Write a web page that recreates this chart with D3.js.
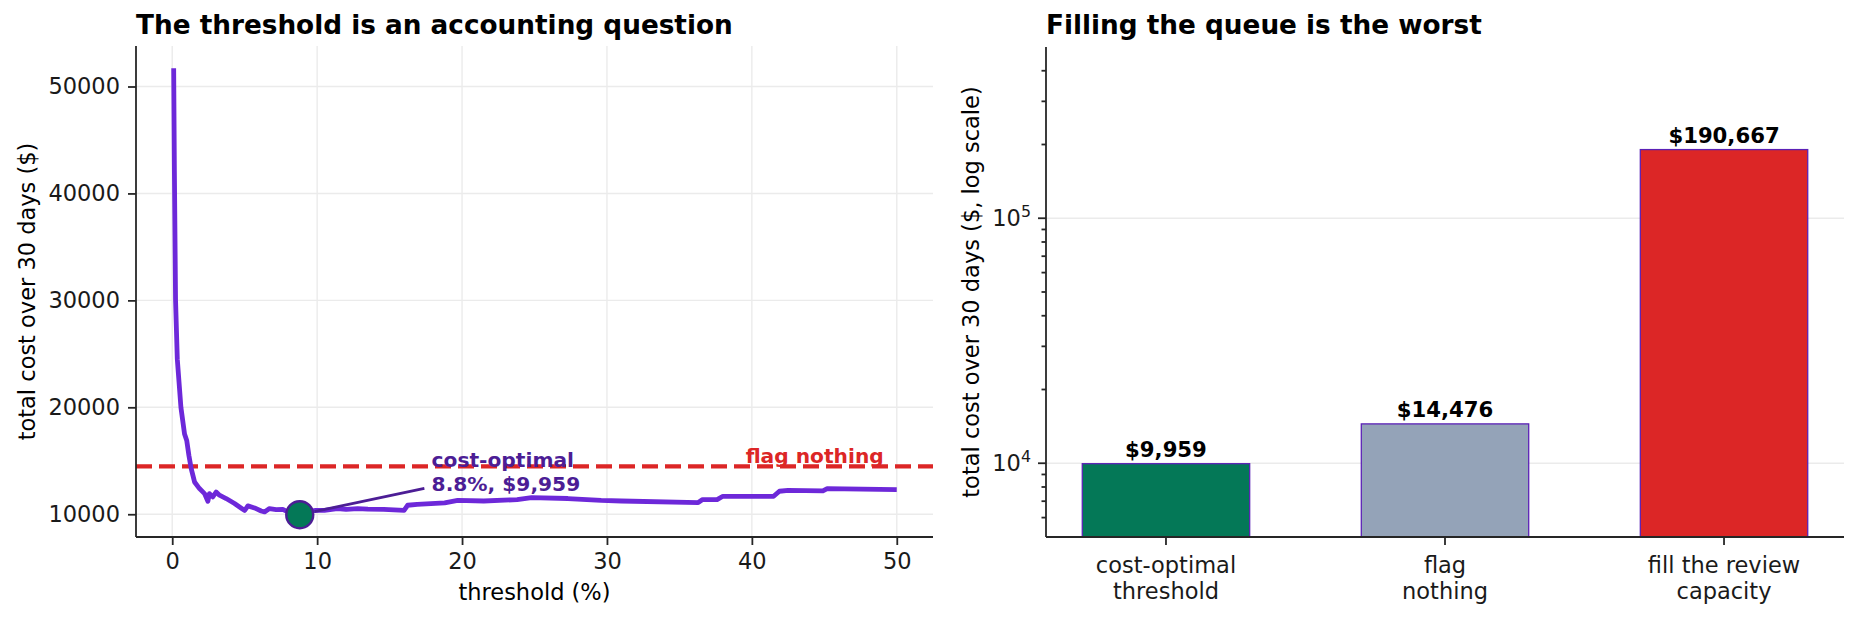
<!DOCTYPE html>
<html>
<head>
<meta charset="utf-8">
<script src="https://cdn.jsdelivr.net/npm/d3@7"></script>
<style>
    body { margin: 0; background: #fff; }
    svg { font-family: "DejaVu Sans", sans-serif; display: block; }
    .grid line { stroke: #ebebeb; stroke-width: 1.4; }
    .axis path, .axis line { stroke: #262626; stroke-width: 1.8; }
    .axis text { font-family: "DejaVu Sans", sans-serif; font-size: 22.5px; fill: #1a1a1a; }
</style>
</head>
<body>
<svg width="1858" height="621"></svg>
<script>

// threshold (%) vs total cost over 30 days ($)
const thresholds = [0.1, 0.15, 0.23, 0.35, 0.6, 0.85, 1.0, 1.15, 1.31, 1.54, 1.88, 2.23, 2.46, 2.57, 2.8,
    3.03, 3.26, 3.72, 4.3, 4.87, 5.0, 5.22, 5.68, 6.14, 6.37, 6.71, 7.17, 7.63, 7.98, 8.4, 8.8, 9.4, 9.9,
    10.5, 11.4, 12.0, 12.8, 13.5, 14.6, 16.0, 16.25, 16.9, 18.8, 19.7, 21.5, 23.8, 24.8, 27.3, 29.6, 31.0,
    36.3, 36.6, 37.6, 38.0, 41.5, 41.9, 42.5, 44.9, 45.2, 50.0];
const costs = [51700, 42000, 30000, 24500, 20000, 17500, 16900, 15500, 14270, 13020, 12400, 11930, 11210, 11930, 11620,
    12080, 11780, 11470, 11000, 10460, 10350, 10780, 10590, 10300, 10220, 10530, 10440, 10460, 10220, 10350, 9959, 10250, 10370,
    10370, 10530, 10450, 10530, 10470, 10460, 10370, 10840, 10930, 11060, 11300, 11240, 11370, 11560, 11470, 11300, 11240,
    11090, 11370, 11370, 11680, 11680, 12150, 12240, 12180, 12400, 12310];

const best_threshold = 8.8;
const best_cost = 9959;
const flag_nothing_cost = 14476;

const left_xticks = [0, 10, 20, 30, 40, 50];
const left_yticks = [10000, 20000, 30000, 40000, 50000];

// right panel
const strategies = [["cost-optimal", "threshold"], ["flag", "nothing"], ["fill the review", "capacity"]];
const strategy_costs = [9959, 14476, 190667];
const strategy_colors = ["#047857", "#94a3b8", "#dc2626"];
const right_ylim = [5000, 500000];
const right_major = [10000, 100000];
const right_minor = [6000, 7000, 8000, 9000, 20000, 30000, 40000, 50000, 60000, 70000, 80000, 90000,
    200000, 300000, 400000];

const purple = "#6d28d9";
const dark_purple = "#4c1d95";
const red = "#dc2626";

const svg = d3.select('svg');

function plot_threshold() {

    const left = 136, right = 933, top = 46, bottom = 537;

    const x = d3.scaleLinear()
        .domain([-2.5, 52.5])
        .range([left, right]);

    const ymin = d3.min(costs), ymax = d3.max(costs);
    const pad = (ymax - ymin) * 0.05;
    const y = d3.scaleLinear()
        .domain([ymin - pad, ymax + pad])
        .range([bottom, top]);

    const g = svg.append("g");

    // grid
    g.append("g").attr("class", "grid")
        .selectAll("line").data(left_xticks).join("line")
        .attr("x1", d => x(d)).attr("x2", d => x(d))
        .attr("y1", top).attr("y2", bottom);
    g.append("g").attr("class", "grid")
        .selectAll("line").data(left_yticks).join("line")
        .attr("x1", left).attr("x2", right)
        .attr("y1", d => y(d)).attr("y2", d => y(d));

    // flag nothing baseline
    g.append("line")
        .attr("x1", left).attr("x2", right)
        .attr("y1", y(flag_nothing_cost)).attr("y2", y(flag_nothing_cost))
        .attr("stroke", red)
        .attr("stroke-width", 4.4)
        .attr("stroke-dasharray", "16,7");

    g.append("text")
        .attr("x", x(49.1))
        .attr("y", y(flag_nothing_cost) - 3)
        .attr("text-anchor", "end")
        .attr("font-size", 20.2)
        .attr("font-weight", "bold")
        .attr("fill", red)
        .text("flag nothing");

    // cost curve
    const line = d3.line()
        .x((d, i) => x(thresholds[i]))
        .y(d => y(d));

    g.append("path")
        .datum(costs)
        .attr("d", line)
        .attr("fill", "none")
        .attr("stroke", purple)
        .attr("stroke-width", 4.8)
        .attr("stroke-linejoin", "round");

    // annotation
    const px = x(best_threshold), py = y(best_cost);
    const tx = x(17.9), ty = y(12200);
    const ax = x(17.4), ay = y(12430);
    const len = Math.hypot(ax - px, ay - py);
    const r0 = 15;

    g.append("line")
        .attr("x1", px + (ax - px) * r0 / len)
        .attr("y1", py + (ay - py) * r0 / len)
        .attr("x2", ax).attr("y2", ay)
        .attr("stroke", dark_purple)
        .attr("stroke-width", 2.8);

    g.append("circle")
        .attr("cx", px).attr("cy", py)
        .attr("r", 13.5)
        .attr("fill", "#047857")
        .attr("stroke", dark_purple)
        .attr("stroke-width", 2.4);

    const note = g.append("text")
        .attr("font-size", 20.2)
        .attr("font-weight", "bold")
        .attr("fill", dark_purple);
    note.append("tspan").attr("x", tx).attr("y", ty - 24).text("cost-optimal");
    note.append("tspan").attr("x", tx).attr("y", ty).text(`${best_threshold}%, $${d3.format(",")(best_cost)}`);

    // axes
    g.append("g").attr("class", "axis")
        .attr("transform", `translate(0, ${bottom})`)
        .call(d3.axisBottom(x).tickValues(left_xticks).tickSize(8).tickPadding(8).tickFormat(d3.format("d")))
        .call(a => a.select(".domain").attr("d", `M${left},0H${right}`));

    g.append("g").attr("class", "axis")
        .attr("transform", `translate(${left}, 0)`)
        .call(d3.axisLeft(y).tickValues(left_yticks).tickSize(8).tickPadding(8).tickFormat(d3.format("d")))
        .call(a => a.select(".domain").attr("d", `M0,${top}V${bottom}`));

    g.append("text")
        .attr("x", (left + right) / 2).attr("y", 600)
        .attr("text-anchor", "middle")
        .attr("font-size", 22.5)
        .text("threshold (%)");

    g.append("text")
        .attr("transform", `translate(35, ${(top + bottom) / 2}) rotate(-90)`)
        .attr("text-anchor", "middle")
        .attr("font-size", 22.5)
        .text("total cost over 30 days ($)");

    g.append("text")
        .attr("x", left).attr("y", 34)
        .attr("font-size", 26.3)
        .attr("font-weight", "bold")
        .text("The threshold is an accounting question");
}

function plot_strategies() {

    const left = 1046, right = 1844, top = 47, bottom = 537;

    const x = d3.scaleLinear()
        .domain([-0.43, 2.43])
        .range([left, right]);

    const y = d3.scaleLog()
        .domain(right_ylim)
        .range([bottom, top]);

    const bw = x(0.6) - x(0);

    const g = svg.append("g");

    g.append("g").attr("class", "grid")
        .selectAll("line").data(right_major).join("line")
        .attr("x1", left).attr("x2", right)
        .attr("y1", d => y(d)).attr("y2", d => y(d));

    g.selectAll("rect.bar")
        .data(strategy_costs)
        .join("rect")
        .attr("class", "bar")
        .attr("x", (d, i) => x(i) - bw / 2)
        .attr("width", bw)
        .attr("y", d => y(d))
        .attr("height", d => bottom - y(d))
        .attr("fill", (d, i) => strategy_colors[i])
        .attr("stroke", "#5b21b6")
        .attr("stroke-width", 1.3);

    g.selectAll("text.val")
        .data(strategy_costs)
        .join("text")
        .attr("class", "val")
        .attr("x", (d, i) => x(i))
        .attr("y", d => y(d) - 7)
        .attr("text-anchor", "middle")
        .attr("font-size", 21.2)
        .attr("font-weight", "bold")
        .text(d => "$" + d3.format(",")(d));

    // x axis
    const xa = g.append("g").attr("class", "axis")
        .attr("transform", `translate(0, ${bottom})`);
    xa.append("path").attr("d", `M${left},0H${right}`).attr("fill", "none");
    const xt = xa.selectAll("g.tick").data(strategies).join("g")
        .attr("class", "tick")
        .attr("transform", (d, i) => `translate(${x(i)}, 0)`);
    xt.append("line").attr("y2", 8);
    xt.append("text")
        .attr("text-anchor", "middle")
        .selectAll("tspan").data(d => d).join("tspan")
        .attr("x", 0)
        .attr("y", (d, i) => 36 + i * 26)
        .text(d => d);

    // y axis (log)
    const ya = g.append("g").attr("class", "axis")
        .attr("transform", `translate(${left}, 0)`);
    ya.append("path").attr("d", `M0,${top}V${bottom}`).attr("fill", "none");
    ya.selectAll("line.minor").data(right_minor).join("line")
        .attr("class", "minor")
        .attr("x2", -4.5)
        .attr("y1", d => y(d)).attr("y2", d => y(d))
        .attr("stroke-width", 1.3);
    const yt = ya.selectAll("g.tick").data(right_major).join("g")
        .attr("class", "tick")
        .attr("transform", d => `translate(0, ${y(d)})`);
    yt.append("line").attr("x2", -8);
    const lab = yt.append("text")
        .attr("x", -15)
        .attr("dy", "0.35em")
        .attr("text-anchor", "end");
    lab.append("tspan").text("10");
    lab.append("tspan")
        .attr("font-size", 15.8)
        .attr("dy", "-0.6em")
        .text(d => Math.round(Math.log10(d)));

    g.append("text")
        .attr("transform", `translate(979, ${(top + bottom) / 2}) rotate(-90)`)
        .attr("text-anchor", "middle")
        .attr("font-size", 22.5)
        .text("total cost over 30 days ($, log scale)");

    g.append("text")
        .attr("x", left).attr("y", 34)
        .attr("font-size", 26.3)
        .attr("font-weight", "bold")
        .text("Filling the queue is the worst");
}

plot_threshold();
plot_strategies();

</script>
</body>
</html>
